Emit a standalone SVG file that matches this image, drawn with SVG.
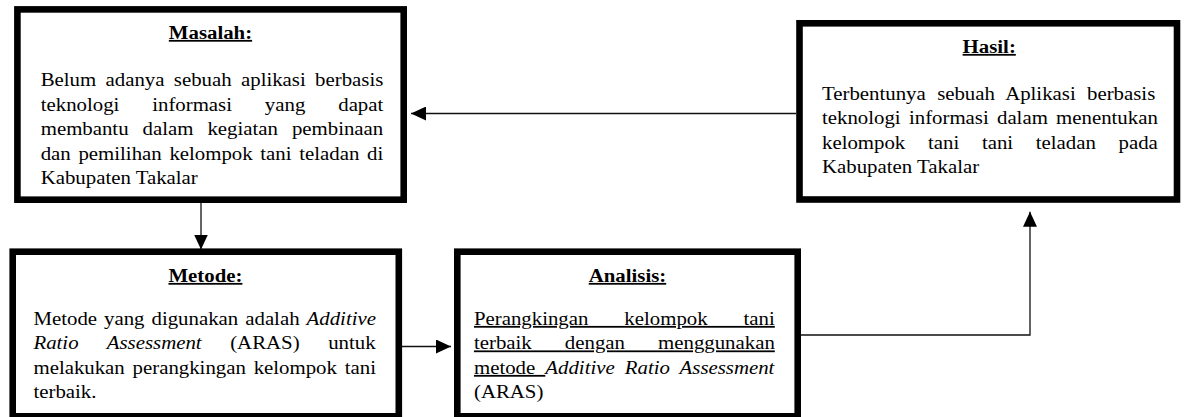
<svg xmlns="http://www.w3.org/2000/svg" width="1188" height="417" viewBox="0 0 1188 417">
<style>
.box{fill:#fff;stroke:#000;stroke-width:6.6}
.t{font-family:"Liberation Serif","Times New Roman",serif;font-size:17.8px;fill:#000}
.h{font-weight:bold;text-decoration:underline;text-anchor:middle}
.i{font-style:italic}
.u{text-decoration:underline}
.c{stroke:#111;stroke-width:1.3;fill:none}
</style>
<defs>
<marker id="ah" markerUnits="userSpaceOnUse" markerWidth="16" markerHeight="14" refX="15" refY="7" orient="auto">
<path d="M0,0 L15,7 L0,14 z" fill="#000"/>
</marker>
</defs>
<g id="connectors">
<path class="c" d="M796,113.5 H411" marker-end="url(#ah)"/>
<path class="c" d="M201,202.7 V249.5" marker-end="url(#ah)"/>
<path class="c" d="M402,346.5 H451" marker-end="url(#ah)"/>
<path class="c" d="M800.8,335 H1030 V211.7" marker-end="url(#ah)"/>
</g>
<g id="masalah">
<rect class="box" x="17.4" y="9.4" width="386.3" height="190.3"/>
<text class="t h" transform="scale(1.17 1)" x="179.9" y="39">Masalah:</text>
<text class="t" transform="scale(1.17 1)" x="34.8" y="86.5" word-spacing="3.55">Belum adanya sebuah aplikasi berbasis</text>
<text class="t" transform="scale(1.17 1)" x="34.8" y="111" word-spacing="23.67">teknologi informasi yang dapat</text>
<text class="t" transform="scale(1.17 1)" x="34.8" y="135.5" word-spacing="7.53">membantu dalam kegiatan pembinaan</text>
<text class="t" transform="scale(1.17 1)" x="34.8" y="160" word-spacing="2.14">dan pemilihan kelompok tani teladan di</text>
<text class="t" transform="scale(1.17 1)" x="34.8" y="184.5">Kabupaten Takalar</text>
</g>
<g id="hasil">
<rect class="box" x="799.5" y="23.3" width="377.5" height="176.2"/>
<text class="t h" transform="scale(1.17 1)" x="845.5" y="53">Hasil:</text>
<text class="t" transform="scale(1.17 1)" x="702.6" y="100" word-spacing="5.27">Terbentunya sebuah Aplikasi berbasis</text>
<text class="t" transform="scale(1.17 1)" x="702.6" y="124.3" word-spacing="2.63">teknologi informasi dalam menentukan</text>
<text class="t" transform="scale(1.17 1)" x="702.6" y="148.6" word-spacing="14.95">kelompok tani tani teladan pada</text>
<text class="t" transform="scale(1.17 1)" x="702.6" y="173">Kabupaten Takalar</text>
</g>
<g id="metode">
<rect class="box" x="12.7" y="251.7" width="386.1" height="164.6"/>
<text class="t h" transform="scale(1.17 1)" x="175.6" y="282">Metode:</text>
<text class="t" transform="scale(1.17 1)" x="28.6" y="325" word-spacing="1.55">Metode yang digunakan adalah <tspan class="i">Additive</tspan></text>
<text class="t" transform="scale(1.17 1)" x="28.6" y="349.5" word-spacing="20"><tspan class="i">Ratio Assessment</tspan> (ARAS) untuk</text>
<text class="t" transform="scale(1.17 1)" x="28.6" y="374" word-spacing="2.23">melakukan perangkingan kelompok tani</text>
<text class="t" transform="scale(1.17 1)" x="28.6" y="398.5">terbaik.</text>
</g>
<g id="analisis">
<rect class="box" x="457.3" y="251.7" width="340.4" height="164.6"/>
<text class="t h" transform="scale(1.17 1)" x="536.3" y="282">Analisis:</text>
<text class="t u" transform="scale(1.17 1)" x="405.1" y="325" word-spacing="26.3">Perangkingan kelompok tani</text>
<text class="t u" transform="scale(1.17 1)" x="405.1" y="349.5" word-spacing="23.85">terbaik dengan menggunakan</text>
<text class="t" transform="scale(1.17 1)" x="405.1" y="374" word-spacing="4.18"><tspan class="u">metode </tspan><tspan class="i">Additive Ratio Assessment</tspan></text>
<text class="t" transform="scale(1.17 1)" x="405.1" y="398.5">(ARAS)</text>
</g>
</svg>
